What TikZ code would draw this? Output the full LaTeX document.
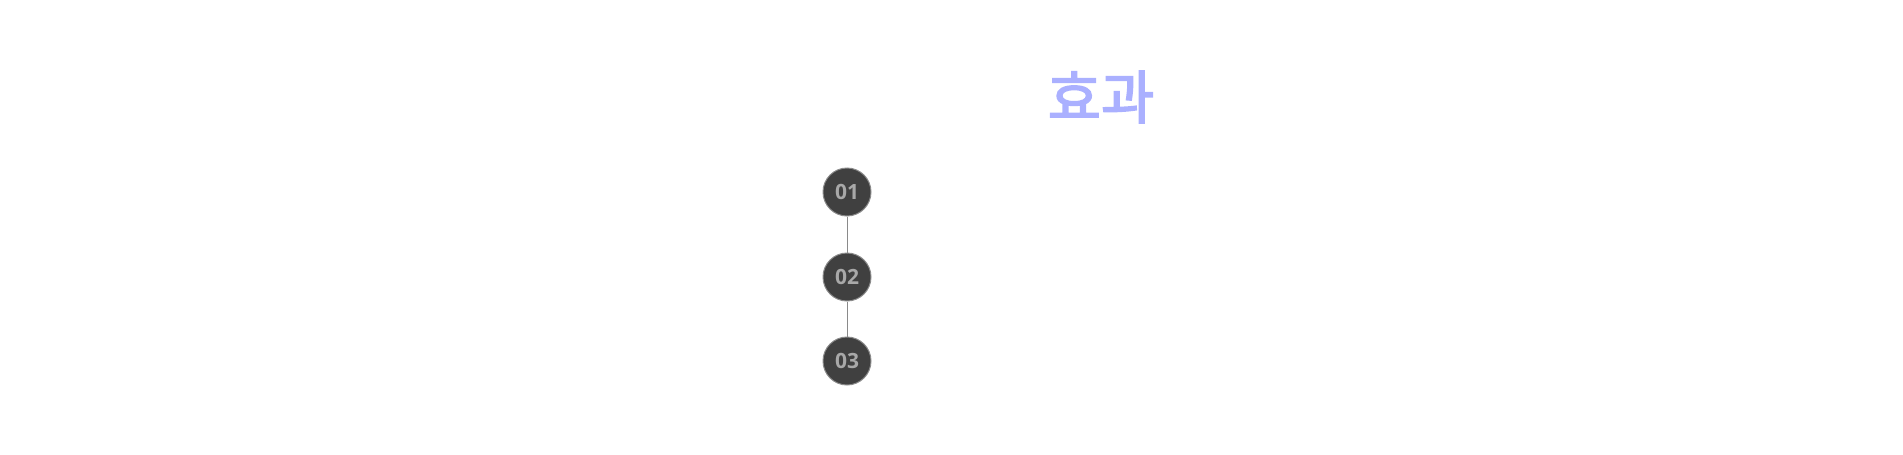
\documentclass[tikz,border=0pt]{standalone}
\usepackage{fontspec}
\setmainfont{Open Sans}
\newfontfamily\krfont[FakeBold=2.5]{Noto Sans CJK KR}
\usepackage{xcolor}
\definecolor{titleblue}{HTML}{AAB0FF}
\definecolor{stepfill}{HTML}{404040}
\definecolor{stepline}{HTML}{8A8A8A}
\definecolor{steptext}{HTML}{A8A8A8}

\begin{document}
\begin{tikzpicture}[x=1pt,y=-1pt,
  stepdot/.style={circle,fill=stepfill,draw=stepline,line width=1pt,minimum size=48pt,inner sep=0pt,
    text=steptext,font=\fontsize{21}{21}\selectfont\bfseries},
  joinline/.style={draw=stepline,line width=0.9pt}]
\useasboundingbox (0,0) rectangle (1903,455);
% Title
\node[text=titleblue,font=\krfont\fontsize{58}{58}\selectfont] (title) at (1101,97) {효과};
% Steps
\node[stepdot] (s1) at (847,192) {01};
\node[stepdot] (s2) at (847,277) {02};
\node[stepdot] (s3) at (847,361) {03};
% Links
\draw[joinline] (s1) -- (s2);
\draw[joinline] (s2) -- (s3);
\end{tikzpicture}
\end{document}
